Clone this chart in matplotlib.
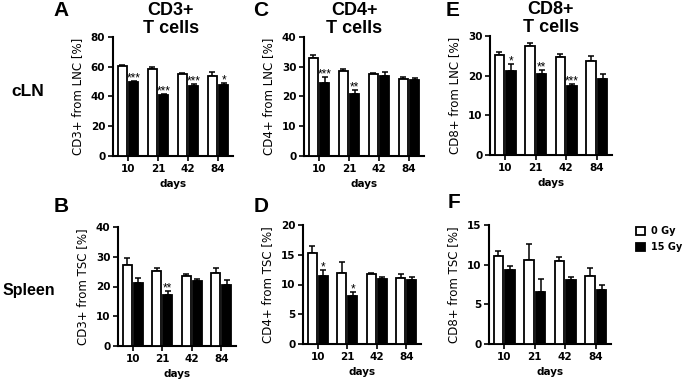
import matplotlib
matplotlib.use("Agg")
import matplotlib.pyplot as plt
import numpy as np
from matplotlib.patches import Rectangle

plt.rcParams['font.family'] = ['DejaVu Sans']
ARIAL = ['Liberation Sans', 'DejaVu Sans']

days = ["10", "21", "42", "84"]
groups = ["0 Gy", "15 Gy"]

# Panel A: CD3+ cLN
a_0gy = [60.2, 58.6, 55.0, 54.0]
a_0gy_err = [0.7, 0.9, 0.5, 2.5]
a_15gy = [49.7, 41.2, 47.2, 48.0]
a_15gy_err = [0.7, 0.5, 1.5, 1.0]
a_sig = ["***", "***", "***", "*"]

# Panel C: CD4+ cLN
c_0gy = [33.0, 28.6, 27.5, 25.8]
c_0gy_err = [1.0, 0.7, 0.4, 0.7]
c_15gy = [24.4, 21.0, 27.0, 25.4]
c_15gy_err = [2.3, 1.3, 1.2, 0.7]
c_sig = ["***", "**", "", ""]

# Panel E: CD8+ cLN
e_0gy = [25.1, 27.5, 24.8, 23.8]
e_0gy_err = [0.9, 0.8, 0.7, 1.2]
e_15gy = [21.2, 20.3, 17.4, 19.2]
e_15gy_err = [1.7, 1.2, 0.4, 1.1]
e_sig = ["*", "**", "***", ""]

# Panel B: CD3+ spleen
b_0gy = [27.2, 25.2, 23.4, 24.7]
b_0gy_err = [2.3, 1.1, 0.8, 1.6]
b_15gy = [21.2, 17.2, 21.9, 20.4]
b_15gy_err = [1.8, 1.2, 0.7, 1.7]
b_sig = ["", "**", "", ""]

# Panel D: CD4+ spleen
d_0gy = [15.3, 11.9, 11.7, 11.1]
d_0gy_err = [1.2, 1.8, 0.3, 0.7]
d_15gy = [11.5, 8.0, 11.0, 10.7]
d_15gy_err = [0.9, 0.8, 0.3, 0.6]
d_sig = ["*", "*", "", ""]

# Panel F: CD8+ spleen
f_0gy = [11.1, 10.6, 10.4, 8.6]
f_0gy_err = [0.6, 2.0, 0.6, 1.0]
f_15gy = [9.3, 6.6, 8.1, 6.8]
f_15gy_err = [0.5, 1.6, 0.4, 0.7]
f_sig = ["", "", "", ""]

panels = [
    ("A", "CD3+\nT cells", "CD3+ from LNC [%]", 80, [0, 20, 40, 60, 80],
     a_0gy, a_0gy_err, a_15gy, a_15gy_err, a_sig, (113, 233, 37, 156), (61, 11), 0.48),
    ("C", "CD4+\nT cells", "CD4+ from LNC [%]", 40, [0, 10, 20, 30, 40],
     c_0gy, c_0gy_err, c_15gy, c_15gy_err, c_sig, (304, 424, 37, 156), (261, 11), 0.42),
    ("E", "CD8+\nT cells", "CD8+ from LNC [%]", 30, [0, 10, 20, 30],
     e_0gy, e_0gy_err, e_15gy, e_15gy_err, e_sig, (490, 612, 36, 155), (453, 11), 0.5),
    ("B", None, "CD3+ from TSC [%]", 40, [0, 10, 20, 30, 40],
     b_0gy, b_0gy_err, b_15gy, b_15gy_err, b_sig, (118, 236, 227, 346), (61, 206), 0.5),
    ("D", None, "CD4+ from TSC [%]", 20, [0, 5, 10, 15, 20],
     d_0gy, d_0gy_err, d_15gy, d_15gy_err, d_sig, (303, 421, 225, 344), (261, 206), 0.5),
    ("F", None, "CD8+ from TSC [%]", 15, [0, 5, 10, 15],
     f_0gy, f_0gy_err, f_15gy, f_15gy_err, f_sig, (489, 611, 225, 344), (454, 203), 0.5),
]

W, H = 685, 381
fig = plt.figure(figsize=(W / 100, H / 100), dpi=100)

x = np.arange(len(days))
bw = 0.3
off = 0.19

for (letter, title, ylabel, ymax, yticks, v0, e0, v1, e1, sig, box, lpos, tx) in panels:
    L, R, T, B = box
    ax = fig.add_axes([L / W, 1 - B / H, (R - L) / W, (B - T) / H])
    ax.bar(x - off, v0, bw, color="white", edgecolor="black", linewidth=1.3, zorder=3)
    ax.bar(x + off, v1, bw, color="black", edgecolor="black", linewidth=1.3, zorder=3)
    ax.errorbar(x - off, v0, yerr=[np.zeros(4), e0], fmt="none", ecolor="black",
                elinewidth=1.1, capsize=2.2, capthick=1.1, zorder=2)
    ax.errorbar(x + off, v1, yerr=[np.zeros(4), e1], fmt="none", ecolor="black",
                elinewidth=1.1, capsize=2.2, capthick=1.1, zorder=2)
    for i, s in enumerate(sig):
        if s:
            ax.annotate(s, (x[i] + off, v1[i] + e1[i]), xytext=(0, -2.5),
                        textcoords="offset points", ha="center", va="bottom",
                        fontsize=8.5, family=ARIAL)
    ax.set_xlim(-0.5, 3.5)
    ax.set_ylim(0, ymax)
    ax.set_yticks(yticks)
    ax.set_xticks(x)
    ax.set_xticklabels(days)
    for sp in ["top", "right"]:
        ax.spines[sp].set_visible(False)
    for sp in ["left", "bottom"]:
        ax.spines[sp].set_linewidth(1.5)
    ax.tick_params(direction="out", length=3.5, width=1.2, labelsize=7.5, pad=2)
    for lab in ax.get_xticklabels() + ax.get_yticklabels():
        lab.set_fontweight("bold")
    ax.set_xlabel("days", fontsize=7.5, fontweight="bold", labelpad=4)
    ax.set_ylabel(ylabel, fontsize=8.5, labelpad=5)
    if title:
        ax.set_title(title, fontsize=13, fontweight="bold", pad=0, x=tx,
                     linespacing=1.05, family=ARIAL)
    fig.text(lpos[0] / W, 1 - lpos[1] / H, letter, fontsize=15, fontweight="bold",
             ha="center", va="center", family=ARIAL)

fig.text(28 / W, 1 - 92 / H, "cLN", fontsize=12.5, fontweight="bold", ha="center",
         va="center", family=ARIAL)
fig.text(29 / W, 1 - 290 / H, "Spleen", fontsize=11.5, fontweight="bold", ha="center",
         va="center", family=ARIAL)

for j, (g, col) in enumerate(zip(groups, ["white", "black"])):
    yc = 231 + j * 16
    fig.patches.append(Rectangle((636 / W, 1 - (yc + 4) / H), 9 / W, 8 / H,
                                 transform=fig.transFigure, facecolor=col,
                                 edgecolor="black", linewidth=1.3))
    fig.text(651 / W, 1 - yc / H, g, fontsize=7, fontweight="bold", ha="left", va="center")

fig.savefig("out.png", dpi=100)
